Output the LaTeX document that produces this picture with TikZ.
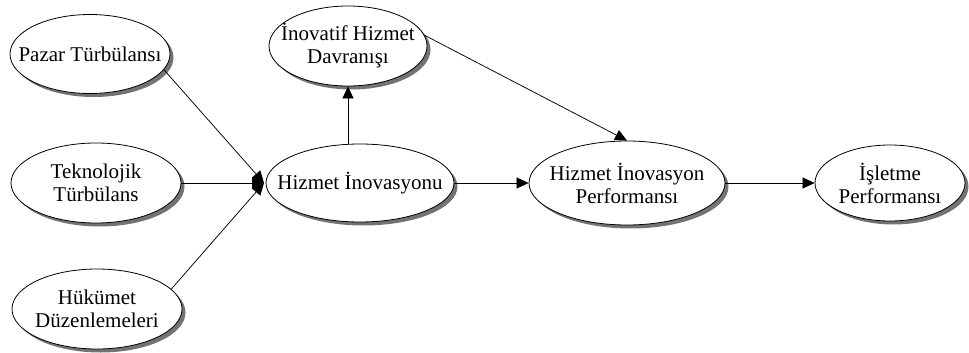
\documentclass[tikz,border=0pt]{standalone}
\usepackage{fontspec}
\setmainfont{Liberation Serif}
\usetikzlibrary{shapes.geometric,arrows.meta,shadows}
\begin{document}
\begin{tikzpicture}[x=1pt,y=-1pt,
  ell/.style={ellipse,draw,line width=0.8pt,fill=white,inner sep=0pt,
    drop shadow={shadow xshift=3.5pt,shadow yshift=-3.5pt,fill=black!55,opacity=1}},
  txt/.style={align=center,inner sep=0pt,font=\fontsize{21}{23}\selectfont},
  arr/.style={line width=0.75pt,-{Triangle[length=12pt,width=11pt]}}]
\useasboundingbox (0,0) rectangle (969,353);
\node[ell,minimum width=160pt,minimum height=79pt] (pt) at (90,54) {};
\node[ell,minimum width=170pt,minimum height=80pt] (tt) at (96,183) {};
\node[ell,minimum width=170pt,minimum height=80pt] (hd) at (97,309) {};
\node[ell,minimum width=188pt,minimum height=78pt] (hi) at (360,183) {};
\node[ell,minimum width=158pt,minimum height=80pt] (ihd) at (348,46) {};
\node[ell,minimum width=196pt,minimum height=84pt] (hip) at (627,183) {};
\node[ell,minimum width=150pt,minimum height=76pt] (ip) at (890,183) {};
\node[txt] (ptT) at (pt) {Pazar Türbülansı};
\node[txt] (ttT) at (tt) {Teknolojik\\Türbülans};
\node[txt] (hdT) at (hd) {Hükümet\\Düzenlemeleri};
\node[txt] (hiT) at (hi) {Hizmet İnovasyonu};
\node[txt] (ihdT) at (ihd) {İnovatif Hizmet\\Davranışı};
\node[txt] (hipT) at (hip) {Hizmet İnovasyon\\Performansı};
\node[txt] (ipT) at (ip) {İşletme\\Performansı};
\coordinate (conv) at (264,183);
\draw[arr] (pt.-12) -- (conv);
\draw[arr] (tt.east) -- (conv);
\draw[arr] (hd.15) -- (conv);
\draw[arr] (hi.north -| ihd.south) -- (ihd.south);
\draw[arr] (ihd.8) -- (hip.north);
\draw[arr] (hi.east) -- (hip.west);
\draw[arr] (hip.east) -- (ip.west);
\end{tikzpicture}
\end{document}
